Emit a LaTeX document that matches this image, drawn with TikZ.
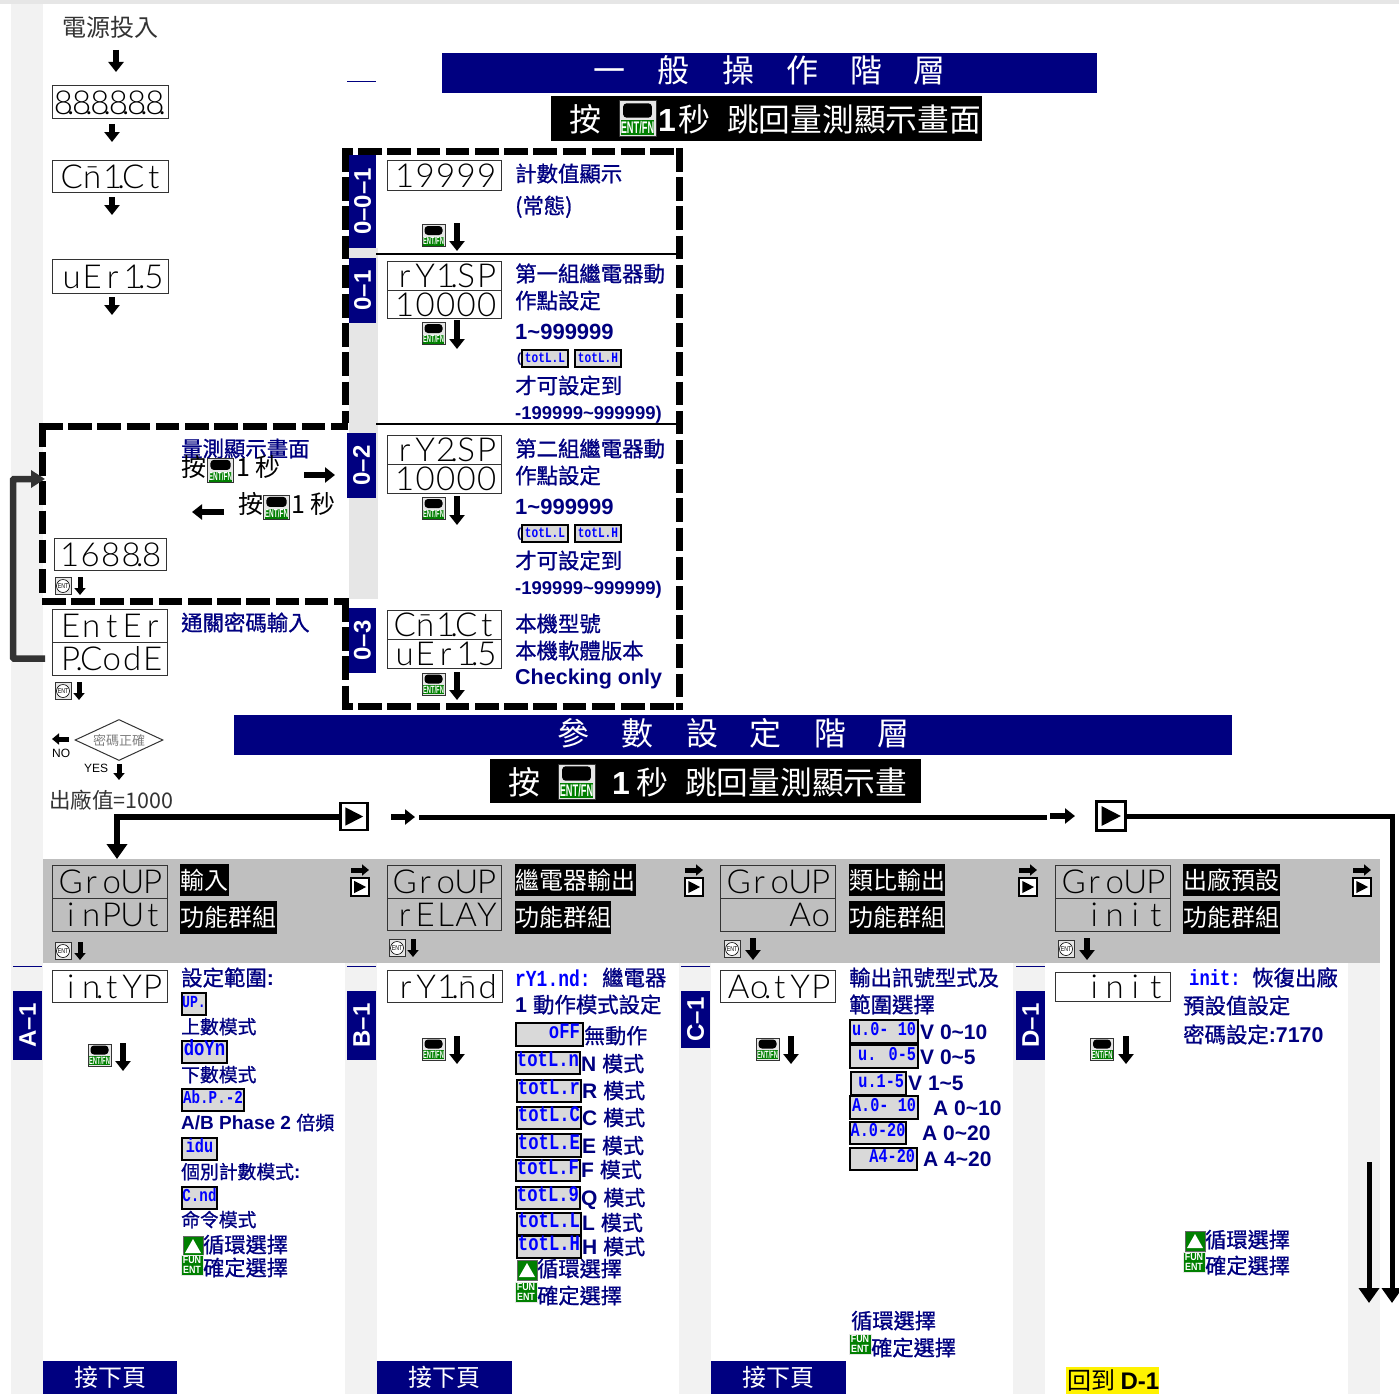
\documentclass[tikz,border=0pt]{standalone}
\usepackage{fontspec}
\usetikzlibrary{arrows.meta,shapes.geometric}
\setmainfont{Liberation Sans}
\newfontfamily\cj{Noto Sans CJK TC}
\newfontfamily\cjb[FakeBold=1]{Noto Sans CJK TC}
\newfontfamily\lab{Liberation Sans}
\newfontfamily\lcdf{Lato Light}
\newfontfamily\cdf[FakeStretch=0.78]{Liberation Mono}
\newcommand\La{\lab\bfseries}
\definecolor{nv}{HTML}{000080}
\definecolor{gn}{HTML}{007F00}
\definecolor{band}{HTML}{BFBFBF}
\definecolor{strip}{HTML}{F2F2F2}
\definecolor{stripb}{HTML}{E6E6E6}
\definecolor{codebg}{HTML}{D9D9D9}
\definecolor{dk}{HTML}{333333}
\newcounter{tn}
\newcommand\pd{\llap{.\hskip-2pt}}
\def\pdcheck{\pd}
\newdimen\cellw
\cellw=20.5pt
\makeatletter
\newcommand\Cells[1]{\@tfor\cc:=#1\do{\ifx\cc\pdcheck\pd\else\hbox to \cellw{\hss\cc\hss}\fi}}
\makeatother
\tikzset{
  lcdst/.style={draw=dk,line width=1pt,font=\fontsize{33}{33}\selectfont\lcdf,text height=24pt,text depth=0pt,text=black},
  codest/.style={draw=black,line width=2pt,fill=codebg,text=blue,text height=0.74em,text depth=0pt},
  blackst/.style={fill=black,text=white,font=\fontsize{24}{24}\selectfont\cj},
  tagst/.style={fill=nv,text=white,font=\fontsize{24}{24}\selectfont\La},
  footst/.style={fill=nv,text=white,font=\fontsize{24}{24}\selectfont\cj},
  blockarrow/.style={line width=6pt,-{Triangle[length=10pt,width=15pt]},black},
  smallarrow/.style={line width=5pt,-{Triangle[length=7pt,width=11pt]},black},
  mainline/.style={line width=5pt,black},
  thickarrow/.style={line width=5pt,-{Triangle[length=15pt,width=20pt]},black},
  retarrow/.style={line width=6.5pt,dk,-{Triangle[length=14pt,width=17pt]}},
  frame/.style={line width=6.5pt,black,dash pattern=on 23.5pt off 5.7pt},
}
% box from corner to corner
\newcommand\Rbox[7][]{%
  \pgfmathsetmacro\W{#5-#3}\pgfmathsetmacro\H{#6-#4}%
  \node[#1,minimum width=\W pt,minimum height=\H pt,inner sep=0pt,outer sep=0pt] (#2) at ({(#3+#5)/2},{(#4+#6)/2}) {#7};}
\newcommand\Lcd[6]{\Rbox[lcdst]{#1}{#2}{#3}{#4}{#5}{\hbox to \W pt{\hfil\Cells{#6}\hskip4pt}}}
\newcommand\Cd[6][17]{\stepcounter{tn}\pgfmathsetmacro\CS{#1*1.3}\Rbox[codest,font=\fontsize{\CS}{\CS}\selectfont\cdf\bfseries]{c\arabic{tn}}{#2}{#3}{#4}{#5}{\hbox to \W pt{\hss #6\hss}}}
\newcommand\Tfont[6]{\stepcounter{tn}\node[anchor=base west,inner sep=0pt,text=#2,font=\fontsize{#5}{#5}\selectfont#1] (t\arabic{tn}) at (#3,{#4+0.36*#5}) {#6};}
\newcommand\Tx[5]{\Tfont{\cjb}{#1}{#2}{#3}{#4}{#5}}
\newcommand\Tn[5]{\Tfont{\cj}{#1}{#2}{#3}{#4}{#5}}
\newcommand\Tc[4]{\Tfont{\cdf\bfseries}{blue}{#1}{#2}{#3}{#4}}
\newcommand\Da[3]{\stepcounter{tn}\coordinate (a\arabic{tn}) at (#1,#2);\coordinate (b\arabic{tn}) at (#1,#3);\draw[blockarrow] (a\arabic{tn}) -- (b\arabic{tn});}
\newcommand\Ds[3]{\stepcounter{tn}\coordinate (a\arabic{tn}) at (#1,#2);\coordinate (b\arabic{tn}) at (#1,#3);\draw[smallarrow] (a\arabic{tn}) -- (b\arabic{tn});}
\newcommand\Ha[3]{\stepcounter{tn}\coordinate (a\arabic{tn}) at (#1,#3);\coordinate (b\arabic{tn}) at (#2,#3);\draw[blockarrow] (a\arabic{tn}) -- (b\arabic{tn});}
\newcommand\Hs[3]{\stepcounter{tn}\coordinate (a\arabic{tn}) at (#1,#3);\coordinate (b\arabic{tn}) at (#2,#3);\draw[smallarrow] (a\arabic{tn}) -- (b\arabic{tn});}
% ENT/FN key
\newcommand\Entfn[3]{\stepcounter{tn}\begin{scope}[shift={(#1,#2)},scale=#3,transform shape]
  \fill[stripb,draw=dk,line width=.8pt] (-11.5,-11) rectangle (11.5,11);
  \fill[black,rounded corners=3.5pt] (-9,-9.5) rectangle (9,-.5);
  \fill[gn] (-10.5,1) rectangle (10.5,10);
  \node[inner sep=0pt,text=white,font=\fontsize{10.5}{10.5}\selectfont\bfseries,xscale=.55] (k\arabic{tn}) at (0,5.5) {ENT/FN};
\end{scope}}
% ENT key
\newcommand\Ent[2]{\stepcounter{tn}\begin{scope}[shift={(#1,#2)}]
  \fill[stripb,draw=dk,line width=.8pt] (-8,-8.5) rectangle (8,8.5);
  \fill[white,draw=black,line width=.6pt] (0,0) circle (6.5);
  \node[inner sep=0pt,text=black,font=\fontsize{7}{7}\selectfont,xscale=.75] (k\arabic{tn}) at (0,0) {ENT};
\end{scope}}
\newcommand\Upk[2]{\begin{scope}[shift={(#1,#2)}]
  \fill[gn,draw=black!60,line width=.8pt] (-10,-10) rectangle (10,10);
  \fill[white] (0,-7) -- (8,7) -- (-8,7) -- cycle;
\end{scope}}
\newcommand\Funk[2]{\stepcounter{tn}\begin{scope}[shift={(#1,#2)}]
  \fill[gn,draw=stripb,line width=.8pt] (-11,-10) rectangle (11,10);
  \node[inner sep=0pt,text=white,align=center,font=\fontsize{10.5}{10}\selectfont\bfseries,xscale=.85] (k\arabic{tn}) at (0,0) {FUN\\ENT};
\end{scope}}
\newcommand\Play[4]{\pgfmathsetmacro\PS{#4}\node[draw=black,fill=white,line width=2.5pt,minimum width=\PS pt,minimum height=\PS pt,inner sep=0pt] (#1) at (#2,#3) {};
  \fill[black] ({#2-.32*#4},{#3-.34*#4}) -- ({#2+.34*#4},#3) -- ({#2-.32*#4},{#3+.34*#4}) -- cycle;}
\newcommand\Small[2]{\stepcounter{tn}\Hs{#1-9}{#1+9}{#2-17}\Play{s\arabic{tn}}{#1}{#2}{18}}
\begin{document}
\begin{tikzpicture}[x=1pt,y=-1pt]
\useasboundingbox (0,0) rectangle (1399,1394);
\fill[white] (0,0) rectangle (1399,1394);
\fill[stripb] (0,0) rectangle (1399,4);
\fill[strip] (11,4) rectangle (43,1394);
\foreach \sx in {345,679,1013,1348} \fill[strip] (\sx,963) rectangle (\sx+32,1394);
\fill[stripb] (349,248) rectangle (378,599);
\fill[band] (43,859) rectangle (1380,963);
\foreach \lx in {13,347,681,1016} \draw[nv,line width=.8pt] (\lx,966) -- (\lx+29,966);
\draw[nv,line width=.8pt] (347,81) -- (376,81);

% banners
\fill[nv] (442,53) rectangle (1097,93);
\fill[black] (551,96) rectangle (982,141);
\fill[nv] (234,715) rectangle (1232,755);
\fill[black] (490,759) rectangle (921,803);
\Tn{white}{593}{71}{32}{一}\Tn{white}{657}{71}{32}{般}\Tn{white}{722}{71}{32}{操}\Tn{white}{786}{71}{32}{作}\Tn{white}{850}{71}{32}{階}\Tn{white}{913}{71}{32}{層}
\Tn{white}{569}{120}{32}{按}\Entfn{637.5}{118.5}{1.6}\Tn{white}{658}{120}{32}{{\La 1}}\Tn{white}{678}{120}{32}{秒}\Tn{white}{727}{120}{31.7}{跳回量測顯示畫面}
\Tn{white}{557}{734}{32}{參}\Tn{white}{621}{734}{32}{數}\Tn{white}{686}{734}{32}{設}\Tn{white}{749}{734}{32}{定}\Tn{white}{814}{734}{32}{階}\Tn{white}{877}{734}{32}{層}
\Tn{white}{508}{783}{32}{按}\Entfn{576.5}{781.5}{1.6}\Tn{white}{612}{783}{32}{{\La 1}}\Tn{white}{636}{783}{32}{秒}\Tn{white}{685}{783}{31.7}{跳回量測顯示畫}

% frames
\draw[frame,dash phase=13pt] (342,151.5) -- (683,151.5);
\draw[frame,dash phase=13pt] (342,706.5) -- (683,706.5);
\draw[frame] (679.5,148) -- (679.5,710);
\draw[frame] (345.5,148) -- (345.5,423);
\draw[frame] (345.5,598) -- (345.5,710);
\draw[frame] (39,426.5) -- (348,426.5);
\draw[frame] (42,601.5) -- (348,601.5);
\draw[frame] (42.5,423) -- (42.5,598);
\draw[black,line width=1.5pt] (376,254) -- (676,254);
\draw[black,line width=1.5pt] (376,424) -- (676,424);

% left column
\Tn{dk}{62}{28}{24}{電源投入}
\cellw=18.3pt
\Lcd{d1}{52}{86}{168}{119}{8\pd 8\pd 8\pd 8\pd 8\pd 8\pd}
\cellw=20.5pt
\Lcd{d2}{52}{160}{168}{192}{C{\=n}1\pd Ct}
\Lcd{d3}{52}{259}{168}{293}{uEr1\pd 5}
\coordinate (p0) at (116,50);
\draw[blockarrow] (p0) -- (116,72);
\draw[blockarrow,shorten <=5pt,shorten >=18pt] ([xshift=2pt]d1.south) -- ([xshift=2pt]d2.north);
\draw[blockarrow,shorten <=5pt,shorten >=44pt] ([xshift=2pt]d2.south) -- ([xshift=2pt]d3.north);
\coordinate (d3e) at (112,315);
\draw[blockarrow,shorten <=4pt] ([xshift=2pt]d3.south) -- (d3e);

% measuring box
\Tx{nv}{181}{449}{21.4}{量測顯示畫面}
\Tn{black}{181}{467}{25}{按}\Entfn{220.5}{470.5}{1.12}\Tn{black}{236}{467}{25}{1 秒}
\Ha{304}{335}{475}
\Tn{black}{238}{504}{25}{按}\Entfn{276.5}{507.5}{1.12}\Tn{black}{291}{504}{25}{1 秒}
\Ha{224}{192}{512}
\Lcd{d4}{54}{538}{166}{570}{1688\pd 8}
\Ent{63}{586}\Ds{80}{577}{595}
\Lcd{d5}{52}{609}{167}{642}{EntEr}
\Lcd{d6}{52}{642}{167}{675}{P\pd CodE}
\Tx{nv}{181}{623}{21.4}{通關密碼輸入}
\Ent{63}{691}\Ds{79}{682}{700}
\coordinate (fl) at (45,479);
\draw[retarrow,rounded corners=1pt,shorten <=7pt] (d6.west) -- ++(-39,0) |- (fl);

% diamond
\node[diamond,draw=dk,line width=1pt,aspect=2.1,minimum width=88pt,minimum height=41pt,inner sep=0pt,text=gray,font=\fontsize{13}{13}\selectfont\cj] (dia) at (119,740) {密碼正確};
\Hs{69}{52}{739}
\Tn{black}{52}{753}{12}{{\lab NO}}
\Tn{black}{84}{768}{12}{{\lab YES}}
\coordinate (dy) at (119,780);
\draw[smallarrow,shorten <=3pt] (dia.south) -- (dy);
\Tn{dk}{49}{801}{21.5}{出廠值=1000}

% flow line
\Play{p1}{354}{816.5}{27}
\Play{p2}{1111}{816}{29}
\coordinate (gin) at (117,859);
\draw[thickarrow,line width=6pt] (p1.west) -| (gin);
\Ha{391}{415}{817}
\coordinate (la) at (419,817);\coordinate (lb) at (1047,817);
\draw[mainline] (la) -- (lb);
\Ha{1050}{1075}{816}
\coordinate (rend) at (1392,1303);
\draw[thickarrow] (p2.east) -| (rend);
\coordinate (r1) at (1369,1162);\coordinate (r2) at (1369,1303);
\draw[thickarrow] (r1) -- (r2);

% 0-0
\Lcd{u1}{387}{160}{501}{190}{19999}
\Tx{nv}{515}{174}{21.4}{計數值顯示}
\Tx{nv}{515}{206}{21.4}{(常態)}
\Entfn{433.5}{235.5}{1}\Da{457}{223}{251}
% 0-1
\Lcd{u2}{387}{261}{501}{290}{rY1\pd SP}
\Lcd{u3}{387}{290}{501}{318}{10000}
\Tx{nv}{515}{274}{21.4}{第一組繼電器動}
\Tx{nv}{515}{301}{21.4}{作點設定}
\Tn{nv}{515}{332}{22}{{\La 1\textasciitilde 999999}}
\Tn{nv}{517}{358}{13}{{\La (}}
\Cd[11]{522}{350}{568}{367}{totL.L}\Cd[11]{575}{350}{621}{367}{totL.H}
\Tx{nv}{515}{386}{21.4}{才可設定到}
\Tn{nv}{515}{413}{18.5}{{\La -199999\textasciitilde 999999)}}
\Entfn{433.5}{333.5}{1}\Da{457}{320}{349}
% 0-2
\Lcd{u4}{387}{435}{501}{464}{rY2\pd SP}
\Lcd{u5}{387}{464}{501}{493}{10000}
\Tx{nv}{515}{449}{21.4}{第二組繼電器動}
\Tx{nv}{515}{476}{21.4}{作點設定}
\Tn{nv}{515}{507}{22}{{\La 1\textasciitilde 999999}}
\Tn{nv}{517}{533}{13}{{\La (}}
\Cd[11]{522}{525}{568}{542}{totL.L}\Cd[11]{575}{525}{621}{542}{totL.H}
\Tx{nv}{515}{561}{21.4}{才可設定到}
\Tn{nv}{515}{588}{18.5}{{\La -199999\textasciitilde 999999)}}
\Entfn{433.5}{508.5}{1}\Da{457}{496}{525}
% 0-3
\Lcd{u6}{387}{610}{501}{639}{C{\=n}1\pd Ct}
\Lcd{u7}{387}{639}{501}{668}{uEr1\pd 5}
\Tx{nv}{515}{624}{21.4}{本機型號}
\Tx{nv}{515}{651}{21.4}{本機軟體版本}
\Tn{nv}{515}{677}{21.5}{{\La Checking only}}
\Entfn{433.5}{684}{1}\Da{457}{672}{700}
% tags
\Rbox[tagst]{tg1}{349}{155}{376}{248}{\rotatebox{90}{0–0–1}}
\Rbox[tagst]{tg2}{349}{258}{376}{323}{\rotatebox{90}{0–1}}
\Rbox[tagst]{tg3}{347}{433}{376}{498}{\rotatebox{90}{0–2}}
\Rbox[tagst]{tg4}{349}{608}{376}{673}{\rotatebox{90}{0–3}}
\Rbox[tagst]{tg5}{13}{991}{42}{1060}{\rotatebox{90}{A–1}}
\Rbox[tagst]{tg6}{347}{991}{376}{1060}{\rotatebox{90}{B–1}}
\Rbox[tagst]{tg7}{681}{991}{710}{1048}{\rotatebox{90}{C–1}}
\Rbox[tagst]{tg8}{1016}{991}{1045}{1060}{\rotatebox{90}{D–1}}

% group band
\Lcd{g1}{52}{865}{167}{898}{GroUP}\Lcd{g2}{52}{898}{167}{931}{inPUt}
\Lcd{g3}{387}{865}{501}{898}{GroUP}\Lcd{g4}{387}{898}{501}{930}{rELAY}
\Lcd{g5}{720}{865}{835}{898}{GroUP}\Lcd{g6}{720}{898}{835}{931}{Ao}
\Lcd{g7}{1055}{865}{1170}{898}{GroUP}\Lcd{g8}{1055}{898}{1170}{931}{init}
\Rbox[blackst]{h1}{180}{864}{229}{896}{輸入}\Rbox[blackst]{h2}{180}{901}{277}{934}{功能群組}
\Rbox[blackst]{h3}{515}{864}{636}{896}{繼電器輸出}\Rbox[blackst]{h4}{515}{901}{611}{934}{功能群組}
\Rbox[blackst]{h5}{849}{864}{945}{896}{類比輸出}\Rbox[blackst]{h6}{849}{901}{945}{934}{功能群組}
\Rbox[blackst]{h7}{1183}{864}{1280}{896}{出廠預設}\Rbox[blackst]{h8}{1183}{901}{1280}{934}{功能群組}
\Small{360}{887}\Small{694}{887}\Small{1028}{887}\Small{1362}{887}
\Ent{63}{951}\Ds{80}{942}{960}
\Ent{397}{948}\Ds{413}{939}{957}
\Ent{732}{949}\Da{753}{938}{960}
\Ent{1066}{949}\Da{1087}{938}{960}

% column A
\Lcd{e1}{52}{970}{167}{1002}{in\pd tYP}
\Entfn{99.5}{1055}{1}\Da{123}{1043}{1071}
\Tx{nv}{181}{978}{21.4}{設定範圍{\La :}}
\Cd[13]{182}{993}{206}{1015}{UP.}
\Tx{nv}{181}{1027}{18.8}{上數模式}
\Cd{182}{1041}{227}{1063}{doYn}
\Tx{nv}{181}{1075}{18.8}{下數模式}
\Cd[14]{182}{1089}{244}{1111}{Ab.P.-2}
\Tn{nv}{181}{1123}{19}{{\La A/B Phase 2 }{\cjb 倍頻}}
\Cd[15]{182}{1138}{217}{1160}{idu}
\Tx{nv}{181}{1172}{18.8}{個別計數模式{\La :}}
\Cd[14]{182}{1187}{217}{1209}{C.nd}
\Tx{nv}{181}{1220}{18.8}{命令模式}
\Upk{193}{1246}\Funk{192}{1265}
\Tx{nv}{203}{1245}{21.2}{循環選擇}
\Tx{nv}{203}{1268}{21.2}{確定選擇}
\Rbox[footst]{f1}{43}{1361}{177}{1394}{接下頁}

% column B
\Lcd{e2}{387}{970}{502}{1002}{rY1\pd{\=n}d}
\Entfn{433.5}{1049}{1}\Da{457}{1036}{1064}
\Tc{515}{978}{23}{rY1.nd:}
\Tx{nv}{602}{978}{21.4}{繼電器}
\Tx{nv}{515}{1005}{21.4}{{\La 1 }動作模式設定}
\Cd{516}{1023}{583}{1046}{\hfill oFF\kern3pt}
\Tx{nv}{584}{1036}{21}{無動作}
\Cd{516}{1052}{580}{1074}{totL.n}\Tn{nv}{581}{1064}{21}{{\La N }{\cjb 模式}}
\Cd{517}{1080}{581}{1102}{totL.r}\Tn{nv}{582}{1091}{21}{{\La R }{\cjb 模式}}
\Cd{517}{1107}{581}{1129}{totL.C}\Tn{nv}{582}{1118}{21}{{\La C }{\cjb 模式}}
\Cd{517}{1134}{581}{1157}{totL.E}\Tn{nv}{582}{1146}{21}{{\La E }{\cjb 模式}}
\Cd{516}{1160}{580}{1181}{totL.F}\Tn{nv}{581}{1170}{21}{{\La F }{\cjb 模式}}
\Cd{516}{1187}{580}{1209}{totL.9}\Tn{nv}{581}{1198}{21}{{\La Q }{\cjb 模式}}
\Cd{517}{1213}{581}{1235}{totL.L}\Tn{nv}{582}{1223}{21}{{\La L }{\cjb 模式}}
\Cd{517}{1236}{581}{1258}{totL.H}\Tn{nv}{582}{1247}{21}{{\La H }{\cjb 模式}}
\Upk{527}{1270}\Funk{526}{1292}
\Tx{nv}{537}{1269}{21.2}{循環選擇}
\Tx{nv}{537}{1296}{21.2}{確定選擇}
\Rbox[footst]{f2}{377}{1361}{512}{1394}{接下頁}

% column C
\Lcd{e3}{720}{970}{835}{1002}{Ao\pd tYP}
\Entfn{767.5}{1049}{1}\Da{791}{1036}{1064}
\Tx{nv}{849}{978}{21.4}{輸出訊號型式及}
\Tx{nv}{849}{1005}{21.4}{範圍選擇}
\Cd[15]{850}{1020}{918}{1043}{\hfill u.0- 10\kern2pt}\Tn{nv}{920}{1032}{21}{{\La V 0\textasciitilde 10}}
\Cd[15]{850}{1045}{918}{1068}{\hfill u. 0-5\kern2pt}\Tn{nv}{920}{1057}{21}{{\La V 0\textasciitilde 5}}
\Cd[15]{851}{1072}{906}{1095}{\hfill u.1-5\kern2pt}\Tn{nv}{908}{1083}{21}{{\La V 1\textasciitilde 5}}
\Cd[15]{850}{1096}{918}{1119}{\hfill A.0- 10\kern2pt}\Tn{nv}{933}{1108}{21}{{\La A 0\textasciitilde 10}}
\Cd[15]{850}{1122}{906}{1144}{A.0-20}\Tn{nv}{922}{1133}{21}{{\La A 0\textasciitilde 20}}
\Cd[15]{850}{1148}{917}{1170}{\hfill A4-20\kern2pt}\Tn{nv}{923}{1159}{21}{{\La A 4\textasciitilde 20}}
\Tx{nv}{851}{1321}{21.2}{循環選擇}
\Funk{860}{1344}
\Tx{nv}{871}{1348}{21.2}{確定選擇}
\Rbox[footst]{f3}{711}{1361}{846}{1394}{接下頁}

% column D
\Lcd{e4}{1055}{972}{1170}{1001}{init}
\Entfn{1102}{1049}{1}\Da{1126}{1036}{1064}
\Tc{1189}{978}{22}{init:}
\Tx{nv}{1252}{978}{21.4}{恢復出廠}
\Tx{nv}{1183}{1006}{21.4}{預設值設定}
\Tn{nv}{1183}{1035}{21.4}{{\cjb 密碼設定}{\La :7170}}
\Upk{1195}{1241}\Funk{1194}{1262}
\Tx{nv}{1205}{1240}{21.2}{循環選擇}
\Tx{nv}{1205}{1266}{21.2}{確定選擇}
\fill[yellow] (1066,1367) rectangle (1159,1394);
\Tn{black}{1067}{1381}{24}{回到 {\La D-1}}
\end{tikzpicture}
\end{document}
